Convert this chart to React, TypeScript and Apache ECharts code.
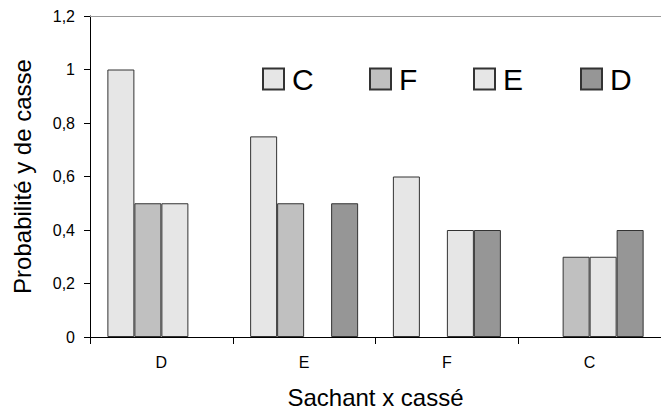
import React, { useEffect, useRef } from "react";
import * as echarts from "echarts";

const categories = ["D", "E", "F", "C"];
const seriesNames = ["C", "F", "E", "D"];
const valuesC = [1, 0.75, 0.6, null];
const valuesF = [0.5, 0.5, null, 0.3];
const valuesE = [0.5, null, 0.4, 0.3];
const valuesD = [null, 0.5, 0.4, 0.4];
const seriesValues = [valuesC, valuesF, valuesE, valuesD];
const colors = ["#e6e6e6", "#c0c0c0", "#e6e6e6", "#969696"];
const legendLefts = [262, 369, 473, 580];

const FONT = "'Liberation Sans', Arial, sans-serif";

export default function App() {
  const ref = useRef<HTMLDivElement>(null);
  useEffect(() => {
    document.body.style.margin = "0";
    const chart = echarts.init(ref.current!, null, { renderer: "svg" });
    chart.setOption({
      animation: false,
      backgroundColor: "#ffffff",
      textStyle: { fontFamily: FONT },
      grid: { left: 90, top: 16, width: 580, height: 323, containLabel: false },
      legend: seriesNames.map((n, i) => ({
        data: [n],
        left: legendLefts[i],
        top: 64,
        itemWidth: 21,
        itemHeight: 21,
        icon: "rect",
        selectedMode: false,
        padding: 0,
        textStyle: { fontSize: 30, color: "#000", fontFamily: FONT, lineHeight: 28, padding: [0, 0, 0, 3] },
      })),
      xAxis: [
        {
          type: "category",
          data: categories,
          position: "bottom",
          axisLine: { lineStyle: { color: "#000", width: 1 } },
          axisTick: { show: true, length: 7, lineStyle: { color: "#000" } },
          axisLabel: { fontSize: 16, color: "#000", margin: 17, fontFamily: FONT },
          name: "Sachant x cassé",
          nameLocation: "middle",
          nameGap: 48,
          nameTextStyle: { fontSize: 24, color: "#000", fontFamily: FONT },
        },
        {
          type: "category",
          data: categories,
          position: "top",
          axisLine: { lineStyle: { color: "#999", width: 1 } },
          axisTick: { show: false },
          axisLabel: { show: false },
        },
      ],
      yAxis: {
        type: "value",
        min: 0,
        max: 1.2,
        interval: 0.2,
        axisLine: { show: true, lineStyle: { color: "#000", width: 1 } },
        axisTick: { show: true, length: 6, lineStyle: { color: "#000" } },
        splitLine: { show: false },
        axisLabel: {
          fontSize: 16,
          color: "#000",
          margin: 15,
          fontFamily: FONT,
          formatter: (v: number) => String(Math.round(v * 10) / 10).replace(".", ","),
        },
        name: "Probabilité y de casse",
        nameLocation: "middle",
        nameGap: 56,
        nameTextStyle: { fontSize: 24, color: "#000", fontFamily: FONT },
      },
      series: seriesNames.map((n, i) => ({
        name: n,
        type: "bar",
        data: seriesValues[i],
        barWidth: 27,
        barGap: "0%",
        itemStyle: { color: colors[i], borderColor: "#333", borderWidth: 1 },
      })),
    });
    return () => chart.dispose();
  }, []);
  return <div ref={ref} style={{ width: 661, height: 414 }} />;
}
